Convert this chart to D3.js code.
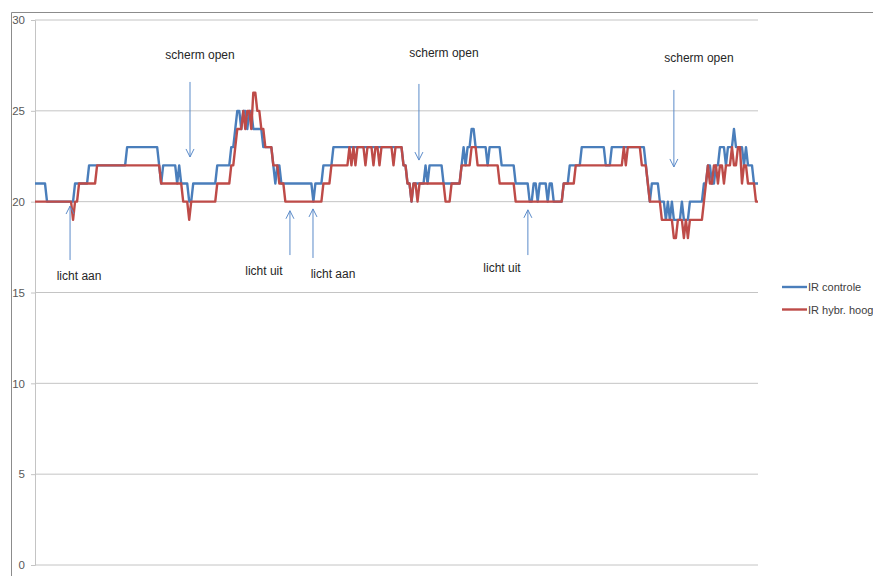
<!DOCTYPE html>
<html>
<head>
<meta charset="utf-8">
<script src="https://cdn.jsdelivr.net/npm/d3@7"></script>
<style>
  body { margin: 0; background: #fff; }
  svg { display: block; }
</style>
</head>
<body>
<svg id="chart" width="873" height="576"></svg>
<script>
// Sampled temperature readings, stored as runs: each run starts at a sample index and holds one level.
const sampleCount = 362;
const yTicks = [0, 5, 10, 15, 20, 25, 30];
const seriesNames = ["IR controle", "IR hybr. hoog"];

const controleStart = [0, 6, 20, 27, 46, 62, 63, 64, 71, 72, 73, 77, 79, 91, 98, 100, 101, 103, 104, 106, 107, 109, 114, 119, 120, 121, 123, 139, 140, 144, 149, 184, 186, 188, 189, 195, 196, 197, 204, 213, 214, 215, 216, 218, 220, 226, 227, 233, 240, 247, 249, 251, 252, 256, 257, 259, 264, 267, 273, 285, 288, 305, 306, 307, 308, 312, 315, 316, 317, 318, 319, 323, 324, 327, 334, 336, 338, 340, 342, 345, 346, 349, 350, 354, 355, 356, 359];
const controleLevel = [21, 20, 21, 22, 23, 22, 21, 22, 21, 22, 21, 20, 21, 22, 23, 24, 25, 24, 25, 24, 25, 24, 23, 22, 21, 22, 21, 20, 21, 22, 23, 22, 21, 20, 21, 22, 21, 22, 21, 22, 23, 22, 23, 24, 23, 22, 23, 22, 21, 20, 21, 20, 21, 20, 21, 20, 21, 22, 23, 22, 23, 22, 21, 20, 21, 20, 19, 20, 19, 20, 19, 20, 19, 20, 21, 22, 21, 22, 23, 22, 23, 24, 23, 22, 23, 22, 21];

const hybrStart = [0, 19, 20, 22, 31, 63, 74, 77, 78, 91, 98, 100, 101, 104, 105, 106, 108, 109, 111, 113, 115, 119, 122, 125, 144, 148, 157, 158, 159, 160, 161, 165, 166, 169, 170, 172, 173, 179, 180, 184, 186, 188, 189, 191, 192, 205, 208, 213, 218, 221, 232, 240, 264, 270, 294, 295, 296, 303, 306, 307, 313, 319, 321, 324, 325, 326, 327, 334, 335, 336, 337, 339, 341, 342, 344, 345, 348, 349, 351, 353, 354, 356, 360];
const hybrLevel = [20, 19, 20, 21, 22, 21, 20, 19, 20, 21, 22, 23, 24, 25, 24, 25, 24, 26, 25, 24, 23, 22, 21, 20, 21, 22, 23, 22, 23, 22, 23, 22, 23, 22, 23, 22, 23, 22, 23, 22, 21, 20, 21, 20, 21, 20, 21, 22, 23, 22, 21, 20, 21, 22, 23, 22, 23, 22, 21, 20, 19, 18, 19, 18, 19, 18, 19, 20, 21, 22, 21, 22, 21, 22, 21, 22, 23, 22, 23, 21, 22, 21, 20];

// Annotation texts (x in samples, y in degrees) and their arrows.
const noteTexts = ["scherm open", "scherm open", "scherm open", "licht aan", "licht uit", "licht aan", "licht uit"];
const noteTextX = [82.4, 204.2, 331.5, 22, 114.3, 148.8, 233.2];
const noteTextY = [27.85, 27.94, 27.69, 15.69, 15.96, 15.8, 16.13];
const arrowX = [77.4, 191.7, 319, 17.5, 127.3, 138.8, 246.1];
const arrowFrom = [26.59, 26.48, 26.15, 16.79, 17.06, 16.9, 17.06];
const arrowTo = [22.46, 22.29, 21.91, 19.76, 19.5, 19.6, 19.55];

const colors = ["#4a7ebb", "#be4b48"];

function expandRuns(starts, levels) {
  const pts = [];
  starts.forEach((s, k) => {
    const end = k + 1 < starts.length ? starts[k + 1] : sampleCount;
    for (let i = s; i < end; i++) pts.push({ i: i, v: levels[k] });
  });
  return pts;
}
const series = [expandRuns(controleStart, controleLevel), expandRuns(hybrStart, hybrLevel)];

const svg = d3.select("#chart");
const x = d3.scaleLinear().domain([0, sampleCount - 1]).range([35, 758]);
const y = d3.scaleLinear().domain([0, 30]).range([565, 20]);

// Outer frame (left and top edges)
svg.append("path")
  .attr("d", "M11.5,576V12.5H873")
  .attr("fill", "none").attr("stroke", "#8c8c8c").attr("stroke-width", 1);

// Horizontal gridlines
svg.append("g").selectAll("line").data(yTicks).join("line")
  .attr("x1", 35).attr("x2", 758)
  .attr("y1", d => y(d)).attr("y2", d => y(d))
  .attr("stroke", "#c4c4c4").attr("stroke-width", 1);

// Value axis
const yAxis = d3.axisLeft(y).tickValues(yTicks).tickSize(4).tickPadding(6).tickFormat(d3.format("d"));
const ag = svg.append("g").attr("transform", "translate(35,0)").call(yAxis);
ag.select(".domain").attr("stroke", "#c4c4c4");
ag.selectAll(".tick line").attr("stroke", "#c4c4c4");
ag.selectAll(".tick text")
  .attr("fill", "#595959")
  .style("font-family", "'Liberation Sans', Arial, sans-serif")
  .style("font-size", "11.5px");

// Series lines
const line = d3.line().x(d => x(d.i)).y(d => y(d.v));
svg.append("g").selectAll("path").data(series).join("path")
  .attr("d", line)
  .attr("fill", "none")
  .attr("stroke", (d, k) => colors[k])
  .attr("stroke-width", 2.4)
  .attr("stroke-linejoin", "round");

// Annotation arrows
const arrowColor = "#5b8bc9";
const ann = svg.append("g").attr("stroke", arrowColor).attr("fill", "none").attr("stroke-width", 1);
arrowX.forEach((ax, k) => {
  const px = x(ax), y0 = y(arrowFrom[k]), y1 = y(arrowTo[k]);
  const dir = y1 > y0 ? -1 : 1;
  ann.append("line").attr("x1", px).attr("x2", px).attr("y1", y0).attr("y2", y1);
  ann.append("polyline").attr("points",
    `${px - 4},${y1 + dir * 8} ${px},${y1} ${px + 4},${y1 + dir * 8}`);
});

// Annotation labels
svg.append("g").selectAll("text").data(noteTexts).join("text")
  .attr("x", (d, k) => x(noteTextX[k]))
  .attr("y", (d, k) => y(noteTextY[k]))
  .attr("text-anchor", "middle")
  .attr("fill", "#262626")
  .style("font-family", "'Liberation Sans', Arial, sans-serif")
  .style("font-size", "12px")
  .text(d => d);

// Legend
const lg = svg.append("g").selectAll("g").data(seriesNames).join("g")
  .attr("transform", (d, k) => `translate(782,${287 + k * 22.5})`);
lg.append("line").attr("x1", 0).attr("x2", 25).attr("y1", 0).attr("y2", 0)
  .attr("stroke", (d, k) => colors[k]).attr("stroke-width", 2.4);
lg.append("text").attr("x", 26).attr("y", 4)
  .attr("fill", "#404040")
  .style("font-family", "'Liberation Sans', Arial, sans-serif")
  .style("font-size", "11px")
  .text(d => d);
</script>
</body>
</html>
